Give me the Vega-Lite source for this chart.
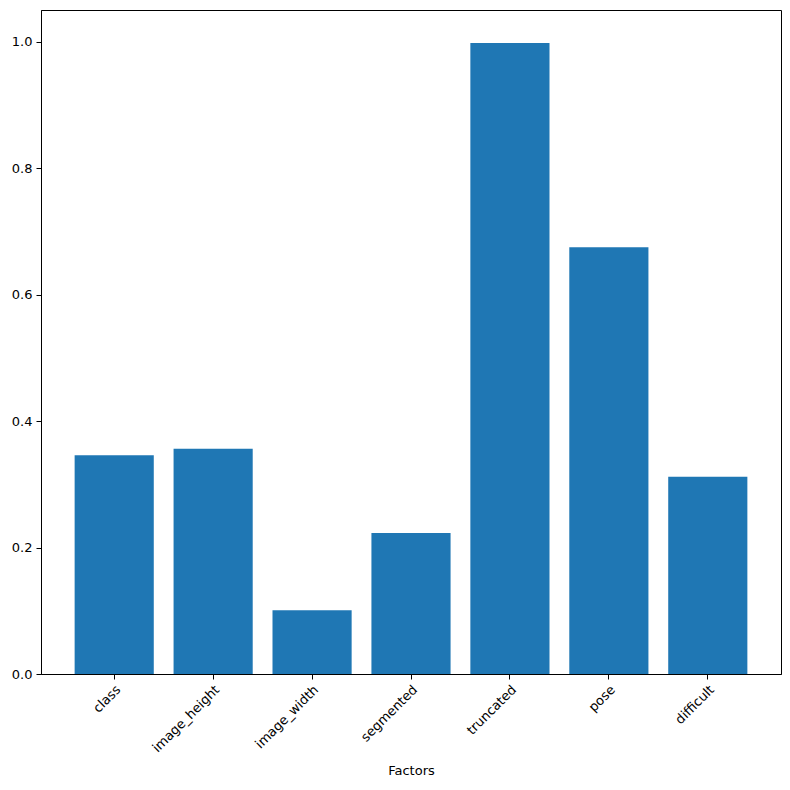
{
  "$schema": "https://vega.github.io/schema/vega-lite/v6.json",
  "autosize": "none",
  "width": 740,
  "height": 664,
  "padding": {"left": 41, "top": 10, "right": 9, "bottom": 116},
  "background": "white",
  "config": {
    "font": "DejaVu Sans",
    "view": {"stroke": "black", "strokeWidth": 1},
    "axis": {
      "labelFont": "DejaVu Sans",
      "titleFont": "DejaVu Sans",
      "labelFontSize": 13,
      "titleFontSize": 13,
      "labelColor": "black",
      "titleColor": "black",
      "titleFontWeight": "normal",
      "tickColor": "black",
      "domainColor": "black",
      "tickSize": 5,
      "grid": false
    }
  },
  "data": {
    "values": [
      {"factor": "class", "value": 0.346},
      {"factor": "image_height", "value": 0.356},
      {"factor": "image_width", "value": 0.101},
      {"factor": "segmented", "value": 0.223},
      {"factor": "truncated", "value": 0.998},
      {"factor": "pose", "value": 0.675},
      {"factor": "difficult", "value": 0.312}
    ]
  },
  "mark": {"type": "bar", "color": "#1f77b4"},
  "encoding": {
    "x": {
      "field": "factor",
      "type": "nominal",
      "sort": null,
      "title": "Factors",
      "scale": {"paddingInner": 0.2, "paddingOuter": 0.34},
      "axis": {"labelAngle": -45, "labelAlign": "right", "labelBaseline": "top", "labelPadding": 4, "titlePadding": 10}
    },
    "y": {
      "field": "value",
      "type": "quantitative",
      "title": null,
      "scale": {"domain": [0, 1.05], "nice": false},
      "axis": {"values": [0, 0.2, 0.4, 0.6, 0.8, 1.0], "format": ".1f", "labelPadding": 4}
    }
  }
}
